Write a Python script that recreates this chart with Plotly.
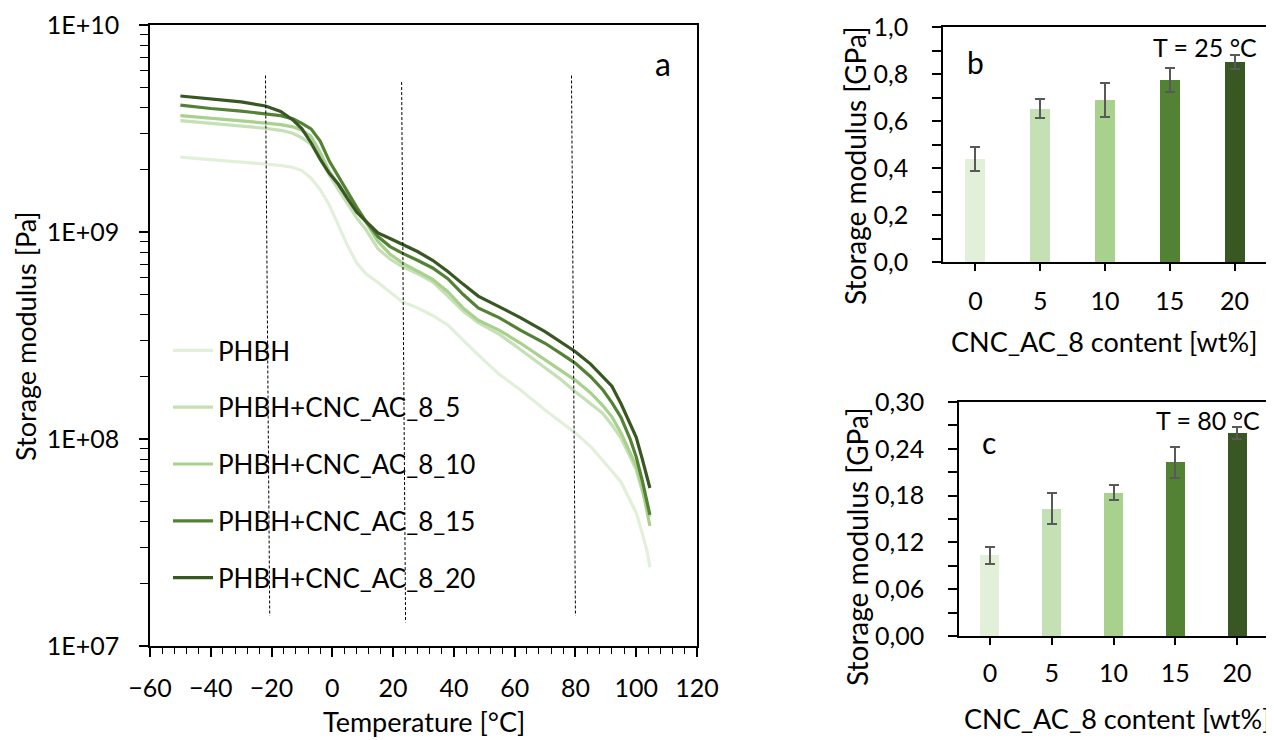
import plotly.graph_objects as go

# ---------------- data: panel a (storage modulus vs temperature) ----------------
temperature = [-50, -40, -30, -22, -17, -13, -10, -7, -4, -1, 2, 5, 8, 11, 15, 19, 23, 28,
               33, 38, 43, 48, 55, 62, 70, 75, 80, 85, 89, 92, 95, 98, 100, 102, 103.5, 104.5]

E_phbh = [2.30e9, 2.24e9, 2.18e9, 2.13e9, 2.10e9, 2.05e9, 1.98e9, 1.82e9, 1.60e9, 1.35e9,
          1.08e9, 8.6e8, 7.1e8, 6.3e8, 5.7e8, 5.1e8, 4.6e8, 4.3e8, 3.95e8, 3.55e8, 3.0e8,
          2.55e8, 2.05e8, 1.72e8, 1.38e8, 1.22e8, 1.07e8, 9.2e7, 7.9e7, 7.0e7, 6.2e7, 5.1e7,
          4.4e7, 3.5e7, 2.9e7, 2.4e7]
E_5 = [3.45e9, 3.35e9, 3.25e9, 3.17e9, 3.10e9, 3.0e9, 2.85e9, 2.65e9, 2.25e9, 1.88e9, 1.6e9,
       1.37e9, 1.17e9, 1.03e9, 8.3e8, 7.4e8, 6.8e8, 6.3e8, 5.75e8, 4.9e8, 4.15e8, 3.65e8,
       3.2e8, 2.7e8, 2.2e8, 1.95e8, 1.69e8, 1.48e8, 1.33e8, 1.17e8, 1.01e8, 8.2e7, 7.1e7,
       5.6e7, 4.7e7, 4.2e7]
E_10 = [3.65e9, 3.55e9, 3.44e9, 3.36e9, 3.30e9, 3.22e9, 3.1e9, 2.9e9, 2.42e9, 1.96e9, 1.68e9,
        1.48e9, 1.27e9, 1.12e9, 9.0e8, 7.8e8, 7.1e8, 6.5e8, 5.9e8, 5.15e8, 4.3e8, 3.75e8,
        3.35e8, 2.9e8, 2.4e8, 2.15e8, 1.92e8, 1.67e8, 1.45e8, 1.28e8, 1.07e8, 8.6e7, 7.4e7,
        5.8e7, 4.6e7, 3.8e7]
E_15 = [4.1e9, 3.95e9, 3.84e9, 3.74e9, 3.65e9, 3.52e9, 3.35e9, 3.15e9, 2.75e9, 2.2e9, 1.85e9,
        1.58e9, 1.32e9, 1.13e9, 9.5e8, 8.5e8, 7.9e8, 7.3e8, 6.7e8, 5.95e8, 5.0e8, 4.3e8,
        3.85e8, 3.35e8, 2.9e8, 2.6e8, 2.32e8, 2.0e8, 1.73e8, 1.5e8, 1.27e8, 1.0e8, 8.2e7,
        6.3e7, 5.0e7, 4.3e7]
E_20 = [4.54e9, 4.4e9, 4.25e9, 4.06e9, 3.82e9, 3.48e9, 3.15e9, 2.7e9, 2.25e9, 1.92e9, 1.7e9,
        1.45e9, 1.25e9, 1.13e9, 9.9e8, 9.3e8, 8.7e8, 8.05e8, 7.3e8, 6.45e8, 5.6e8, 4.9e8,
        4.35e8, 3.85e8, 3.3e8, 2.95e8, 2.64e8, 2.3e8, 2.0e8, 1.8e8, 1.48e8, 1.18e8, 1.02e8,
        8.0e7, 6.5e7, 5.8e7]

series_names = ["PHBH", "PHBH+CNC_AC_8_5", "PHBH+CNC_AC_8_10", "PHBH+CNC_AC_8_15", "PHBH+CNC_AC_8_20"]
series_values = [E_phbh, E_5, E_10, E_15, E_20]

# reference (dashed) lines drawn by hand in the original: temperatures at top / bottom ends
ref_T_top = [-22.0, 22.8, 78.7]
ref_T_bottom = [-20.6, 24.1, 80.0]
ref_E_top = [5.7e9, 5.3e9, 5.7e9]
ref_E_bottom = [1.4e7, 1.3e7, 1.4e7]

x_tick_vals_a = [-60, -40, -20, 0, 20, 40, 60, 80, 100, 120]
y_tick_vals_a = [1e7, 1e8, 1e9, 1e10]
y_tick_text_a = ["1E+07", "1E+08", "1E+09", "1E+10"]

# ---------------- data: panels b and c (bar charts) ----------------
cnc_content = ["0", "5", "10", "15", "20"]
modulus_25C = [0.44, 0.652, 0.689, 0.774, 0.851]
error_25C = [0.051, 0.040, 0.071, 0.050, 0.030]
modulus_80C = [0.1037, 0.1634, 0.1839, 0.2228, 0.2599]
error_80C = [0.011, 0.020, 0.010, 0.020, 0.0077]

y_tick_vals_b = [0.0, 0.2, 0.4, 0.6, 0.8, 1.0]
y_tick_text_b = ["0,0", "0,2", "0,4", "0,6", "0,8", "1,0"]
y_tick_vals_c = [0.0, 0.06, 0.12, 0.18, 0.24, 0.30]
y_tick_text_c = ["0,00", "0,06", "0,12", "0,18", "0,24", "0,30"]

# ---------------- styling ----------------
colors = ["#e2f0d9", "#c5e0b4", "#a9d18e", "#548235", "#385723"]
FONT = "Lato"
OFF = 8                      # page body margin of the browser
W, H = 1274 - OFF, 740 - OFF


def px(x):
    return (x - OFF) / W


def py(y):
    return 1 - (y - OFF) / H


fig = go.Figure()

for i, (name, vals) in enumerate(zip(series_names, series_values)):
    fig.add_trace(go.Scatter(
        x=temperature, y=vals, mode="lines", name=name,
        line=dict(color=colors[i], width=3.2),
        legendgroup=name, xaxis="x", yaxis="y"))

for t0, t1, e0, e1 in zip(ref_T_top, ref_T_bottom, ref_E_top, ref_E_bottom):
    fig.add_trace(go.Scatter(
        x=[t0, t1], y=[e0, e1], mode="lines", showlegend=False, hoverinfo="skip",
        line=dict(color="black", width=1, dash="3px,2px"), xaxis="x", yaxis="y"))

positions = list(range(len(cnc_content)))
fig.add_trace(go.Bar(
    x=positions, y=modulus_25C, width=0.31, marker=dict(color=colors, line=dict(width=0)),
    error_y=dict(type="data", array=error_25C, color="#595959", thickness=2, width=5),
    showlegend=False, xaxis="x2", yaxis="y2"))
fig.add_trace(go.Bar(
    x=positions, y=modulus_80C, width=0.31, marker=dict(color=colors, line=dict(width=0)),
    error_y=dict(type="data", array=error_80C, color="#595959", thickness=2, width=5),
    showlegend=False, xaxis="x3", yaxis="y3"))

tickfont = dict(family=FONT, size=25, color="black")
axis_common = dict(showline=True, linecolor="black", linewidth=1.5, showgrid=False,
                   zeroline=False, ticks="outside", tickcolor="black", tickwidth=1.5,
                   tickfont=tickfont, automargin=False)

minor_y_a = [m * 10 ** d for d in range(7, 10) for m in range(2, 10)]

bar_x_ticks = positions + [len(positions) - 0.5]
bar_x_text = cnc_content + [""]

fig.update_layout(
    width=W, height=H, autosize=False,
    margin=dict(l=0, r=0, t=0, b=0, pad=0, autoexpand=False),
    plot_bgcolor="white", paper_bgcolor="white",
    font=dict(family=FONT, color="black"),
    showlegend=True,
    legend=dict(x=px(168), y=py(327), xanchor="left", yanchor="top",
                bgcolor="rgba(0,0,0,0)", borderwidth=0,
                font=dict(family=FONT, size=26, color="black"),
                tracegroupgap=20, itemwidth=40),
    xaxis=dict(domain=[px(150), px(697)], anchor="y", range=[-60, 120],
               tickmode="array", tickvals=x_tick_vals_a, ticklen=9, mirror=True,
               ticklabelstandoff=10,
               minor=dict(dtick=4, tick0=-60, ticks="outside", ticklen=6, tickwidth=1,
                          tickcolor="black", showgrid=False),
               **axis_common),
    yaxis=dict(domain=[py(646), py(25)], anchor="x", type="log", range=[7, 10],
               tickmode="array", tickvals=y_tick_vals_a, ticktext=y_tick_text_a,
               ticklen=9, mirror=True, ticklabelstandoff=15,
               minor=dict(tickmode="array", tickvals=minor_y_a, ticks="outside", ticklen=8,
                          tickwidth=1, tickcolor="black", showgrid=False),
               **axis_common),
    xaxis2=dict(domain=[px(943), px(1267)], anchor="y2", range=[-0.5, 4.5],
                tickmode="array", tickvals=bar_x_ticks, ticktext=bar_x_text,
                ticklen=7, mirror=True, ticklabelstandoff=9, **axis_common),
    yaxis2=dict(domain=[py(262), py(27)], anchor="x2", range=[0, 1.0],
                tickmode="array", tickvals=y_tick_vals_b, ticktext=y_tick_text_b, ticklen=9,
                ticklabelstandoff=19,
                minor=dict(dtick=0.1, ticks="outside", ticklen=9, tickwidth=1.5,
                           tickcolor="black", showgrid=False),
                **axis_common),
    xaxis3=dict(domain=[px(959), px(1268)], anchor="y3", range=[-0.5, 4.5],
                tickmode="array", tickvals=bar_x_ticks, ticktext=bar_x_text,
                ticklen=7, mirror=True, ticklabelstandoff=7, **axis_common),
    yaxis3=dict(domain=[py(636), py(402)], anchor="x3", range=[0, 0.30],
                tickmode="array", tickvals=y_tick_vals_c, ticktext=y_tick_text_c, ticklen=9,
                ticklabelstandoff=19,
                minor=dict(dtick=0.03, ticks="outside", ticklen=9, tickwidth=1.5,
                           tickcolor="black", showgrid=False),
                **axis_common),
    bargap=0,
)

title_font = dict(family=FONT, size=27, color="black")
gpa_font = dict(family=FONT, size=28, color="black")
ann = [
    dict(text="Storage modulus [Pa]", x=px(25), y=py(336), textangle=-90, font=title_font),
    dict(text="Temperature [°C]", x=px(424), y=py(721), font=title_font),
    dict(text="Storage modulus [GPa]", x=px(855), y=py(166), textangle=-90, font=gpa_font),
    dict(text="CNC_AC_8 content [wt%]", x=px(1104), y=py(342), font=title_font),
    dict(text="Storage modulus [GPa]", x=px(857), y=py(547), textangle=-90, font=gpa_font),
    dict(text="CNC_AC_8 content [wt%]", x=px(1117), y=py(718), font=title_font),
    dict(text="a", x=px(663), y=py(63), font=dict(family=FONT, size=32, color="black")),
    dict(text="b", x=px(975), y=py(62), font=dict(family=FONT, size=30, color="black")),
    dict(text="c", x=px(989), y=py(442), font=dict(family=FONT, size=30, color="black")),
    dict(text="T = 25 °C", x=px(1205), y=py(47), font=dict(family=FONT, size=25, color="black")),
    dict(text="T = 80 °C", x=px(1208), y=py(420), font=dict(family=FONT, size=25, color="black")),
]
for a in ann:
    a.update(xref="paper", yref="paper", showarrow=False, xanchor="center", yanchor="middle")
fig.update_layout(annotations=ann)

fig.write_html("out.html")
